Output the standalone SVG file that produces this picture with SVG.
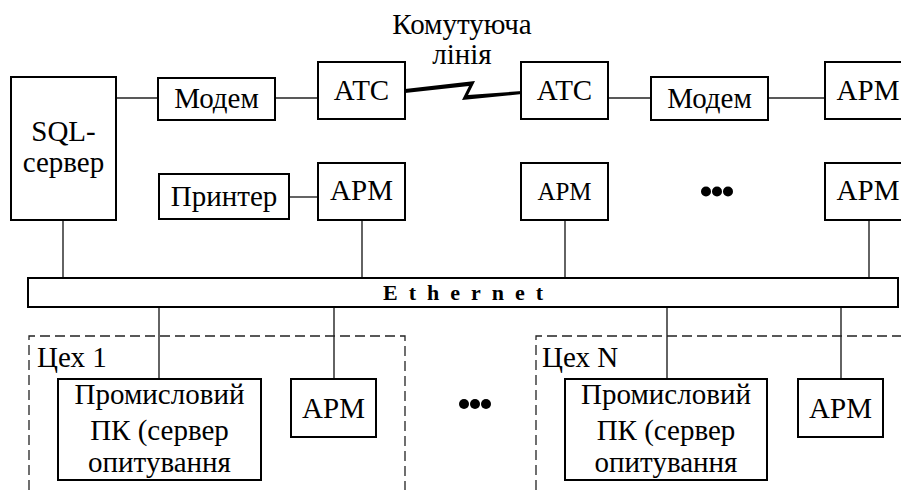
<svg xmlns="http://www.w3.org/2000/svg" width="901" height="490" viewBox="0 0 901 490">
<style>
.box{fill:#fff;stroke:#000;stroke-width:2}
.ln{stroke:#222;stroke-width:1.4;fill:none}
.dash{stroke:#222;stroke-width:1.3;fill:none;stroke-dasharray:10 5}
.dot{fill:#000}
</style>
<rect width="901" height="490" fill="#fff"/>
<g id="connectors">
<line class="ln" x1="116" y1="98" x2="158" y2="98"/>
<line class="ln" x1="275" y1="98" x2="318" y2="98"/>
<line class="ln" x1="608" y1="98" x2="651" y2="98"/>
<line class="ln" x1="768" y1="98" x2="825" y2="98"/>
<line class="ln" x1="289" y1="197" x2="318" y2="197"/>
<line class="ln" x1="63" y1="220" x2="63" y2="278"/>
<line class="ln" x1="362" y1="220" x2="362" y2="278"/>
<line class="ln" x1="565" y1="220" x2="565" y2="278"/>
<line class="ln" x1="869" y1="220" x2="869" y2="278"/>
<line class="ln" x1="159" y1="307" x2="159" y2="379"/>
<line class="ln" x1="334" y1="307" x2="334" y2="379"/>
<line class="ln" x1="667" y1="307" x2="667" y2="379"/>
<line class="ln" x1="841" y1="307" x2="841" y2="379"/>
<polygon points="405,89 475,81 468,95 522,91 522,94 462,100 469,86 405,93" fill="#000"/>
</g>
<g id="switched-line-label">
<text font-family="Liberation Serif, serif" font-size="29" text-anchor="middle" x="462" y="34">Комутуюча</text>
<text font-family="Liberation Serif, serif" font-size="29" text-anchor="middle" x="462" y="64">лінія</text>
</g>
<g id="sql-server"><rect class="box" x="11" y="77" width="105" height="143"/>
<text font-family="Liberation Serif, serif" font-size="29" text-anchor="middle" x="63.5" y="141">SQL-</text><text font-family="Liberation Serif, serif" font-size="29" text-anchor="middle" x="63.5" y="172">сервер</text></g>
<g id="modem1"><rect class="box" x="158" y="78" width="117" height="42"/><text font-family="Liberation Serif, serif" font-size="29" text-anchor="middle" x="216.5" y="108">Модем</text></g>
<g id="atc1"><rect class="box" x="318" y="62" width="87" height="57"/><text font-family="Liberation Serif, serif" font-size="29" text-anchor="middle" x="361.5" y="100">АТС</text></g>
<g id="atc2"><rect class="box" x="521" y="62" width="87" height="57"/><text font-family="Liberation Serif, serif" font-size="29" text-anchor="middle" x="564.5" y="100">АТС</text></g>
<g id="modem2"><rect class="box" x="651" y="77" width="117" height="43"/><text font-family="Liberation Serif, serif" font-size="29" text-anchor="middle" x="709.5" y="108">Модем</text></g>
<g id="apm-top-right"><rect class="box" x="825" y="62" width="87" height="57"/><text font-family="Liberation Serif, serif" font-size="29" text-anchor="middle" x="868" y="100">АРМ</text></g>
<g id="printer"><rect class="box" x="159" y="174" width="130" height="45"/><text font-family="Liberation Serif, serif" font-size="29" text-anchor="middle" x="224" y="206">Принтер</text></g>
<g id="apm1"><rect class="box" x="318" y="163" width="87" height="57"/><text font-family="Liberation Serif, serif" font-size="29" text-anchor="middle" x="361.5" y="200">АРМ</text></g>
<g id="apm2"><rect class="box" x="521" y="163" width="87" height="57"/><text font-family="Liberation Serif, serif" font-size="25" text-anchor="middle" x="564.5" y="200">АРМ</text></g>
<g id="dots-top"><circle class="dot" cx="706" cy="191.5" r="5"/><circle class="dot" cx="717" cy="191.5" r="5"/><circle class="dot" cx="728" cy="191.5" r="5"/></g>
<g id="apm-mid-right"><rect class="box" x="825" y="163" width="87" height="57"/><text font-family="Liberation Serif, serif" font-size="29" text-anchor="middle" x="868" y="200">АРМ</text></g>
<g id="ethernet"><rect class="box" x="28" y="278" width="870" height="29"/>
<text font-family="Liberation Serif, serif" x="383" y="300" font-size="22" font-weight="bold" letter-spacing="11">Ethernet</text></g>
<g id="shop1">
<path class="dash" d="M29,490 V336 H405 V490"/>
<text font-family="Liberation Serif, serif" font-size="29" x="37" y="367">Цех 1</text>
</g>
<g id="pc1"><rect class="box" x="58" y="379" width="203" height="101"/>
<text font-family="Liberation Serif, serif" font-size="29" text-anchor="middle" x="159.5" y="404">Промисловий</text><text font-family="Liberation Serif, serif" font-size="29" text-anchor="middle" x="159.5" y="440">ПК (сервер</text><text font-family="Liberation Serif, serif" font-size="29" text-anchor="middle" x="159.5" y="472">опитування</text></g>
<g id="apm-shop1"><rect class="box" x="291" y="379" width="85" height="58"/><text font-family="Liberation Serif, serif" font-size="29" text-anchor="middle" x="333.5" y="418">АРМ</text></g>
<g id="dots-bottom"><circle class="dot" cx="464" cy="404" r="5"/><circle class="dot" cx="475" cy="404" r="5"/><circle class="dot" cx="486" cy="404" r="5"/></g>
<g id="shopN">
<path class="dash" d="M536,490 V336 H901"/>
<text font-family="Liberation Serif, serif" font-size="29" x="542" y="367">Цех N</text>
</g>
<g id="pcN"><rect class="box" x="565" y="379" width="202" height="101"/>
<text font-family="Liberation Serif, serif" font-size="29" text-anchor="middle" x="666" y="404">Промисловий</text><text font-family="Liberation Serif, serif" font-size="29" text-anchor="middle" x="666" y="440">ПК (сервер</text><text font-family="Liberation Serif, serif" font-size="29" text-anchor="middle" x="666" y="472">опитування</text></g>
<g id="apm-shopN"><rect class="box" x="798" y="379" width="85" height="58"/><text font-family="Liberation Serif, serif" font-size="29" text-anchor="middle" x="840.5" y="418">АРМ</text></g>
</svg>
